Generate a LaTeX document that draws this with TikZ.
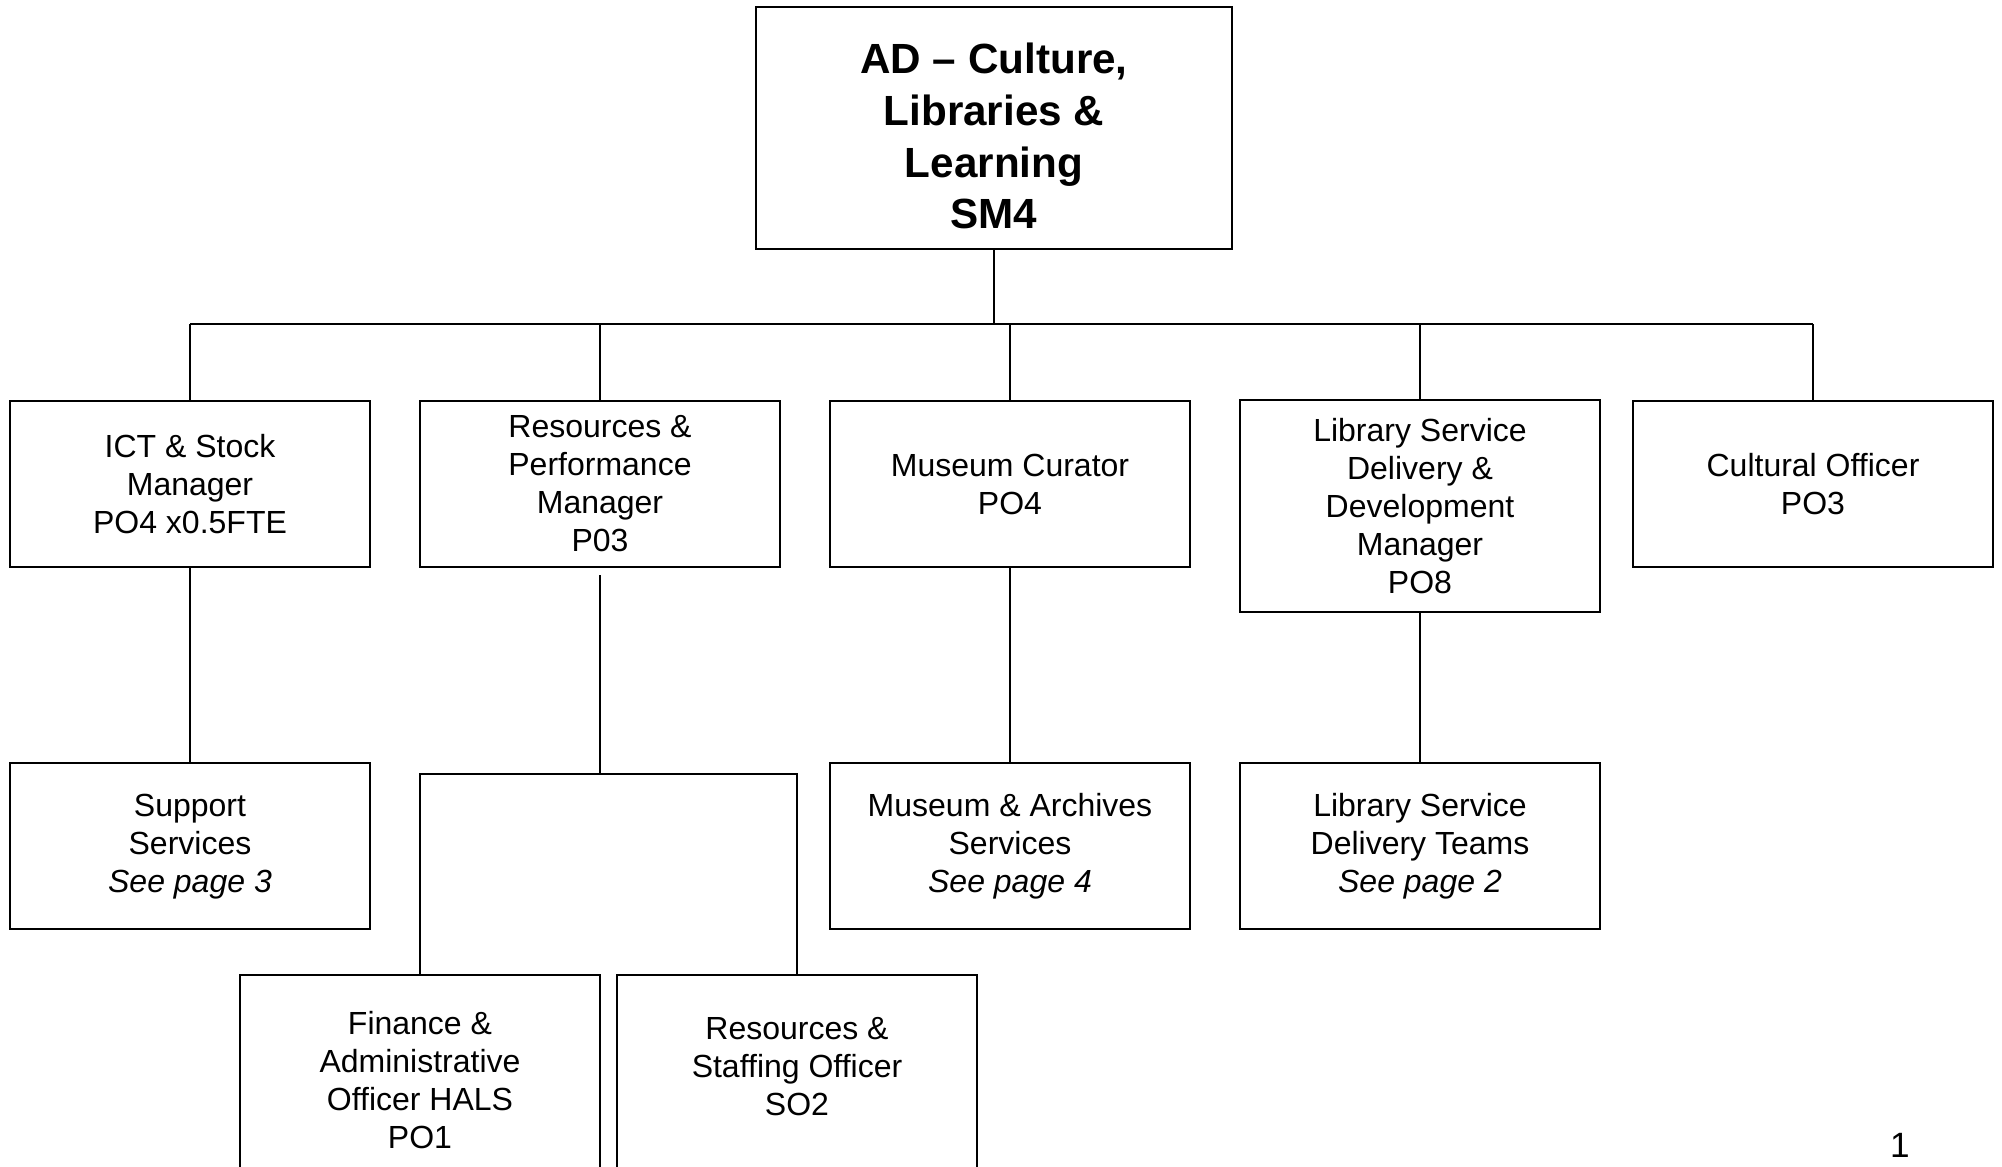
\documentclass[tikz,border=0pt]{standalone}
\usepackage{fontspec}
\setmainfont{Liberation Sans}
\usetikzlibrary{positioning}

% move the lines of a box up or down, keeping its size
\newcommand{\shiftlines}[2]{\raisebox{#1}[\height][\depth]{\begin{tabular}{@{}c@{}}#2\end{tabular}}}

\begin{document}
\begin{tikzpicture}[
                    x=0.01cm, y=-0.01cm,
                    line width=0.6pt,
                    every node/.style={font=\fontsize{9.1}{10.8}\selectfont, align=center},
                    post/.style={draw, minimum width=3.6cm, minimum height=1.66cm, inner sep=0pt},
                    head/.style={post, minimum width=4.76cm, minimum height=2.41cm,
                                 font=\fontsize{12}{14.7}\selectfont\bfseries},
                    tall/.style={post, minimum height=2.11cm},
                    cut/.style={post, minimum height=2.1cm}
                ]
                  \useasboundingbox (0,0) rectangle (2002,1167);
                  % top
                  \node[head] (ad) at (994,128) {\shiftlines{-0.13cm}{AD – Culture,\\Libraries \&\\Learning\\SM4}};
                  % first row
                  \node[post] (ict) at (190,484) {ICT \& Stock\\Manager\\PO4 x0.5FTE};
                  \node[post] (rp) at (600,484) {Resources \&\\Performance\\Manager\\P03};
                  \node[post] (curator) at (1010,484) {Museum Curator\\PO4};
                  \node[tall] (lsdd) at (1420,506) {Library Service\\Delivery \&\\Development\\Manager\\PO8};
                  \node[post] (cult) at (1813,484) {Cultural Officer\\PO3};
                  % second row
                  \node[post, below=1.94cm of ict] (support) {Support\\Services\\\textit{See page 3}};
                  \node[post, below=1.94cm of curator] (archives) {Museum \& Archives\\Services\\\textit{See page 4}};
                  \node[post, below=1.49cm of lsdd] (teams) {Library Service\\Delivery Teams\\\textit{See page 2}};
                  % third row
                  \node[cut] (finance) at (420,1080) {Finance \&\\Administrative\\Officer HALS\\PO1};
                  \node[cut] (staffing) at (797,1080) {\shiftlines{0.1cm}{Resources \&\\Staffing Officer\\SO2}};
                  \node[font=\fontsize{10}{12}\selectfont] (pgno) at (1900,1145) {1};

                  \coordinate (bar) at (0,324);
                  \coordinate (fork) at (0,774);
                  \draw (ad.south) -- (ad.south |- bar);
                  \draw (ict.north |- bar) -- (cult.north |- bar);
                  \foreach \n in {ict, rp, curator, lsdd, cult}
                    \draw (\n.north) -- (\n.north |- bar);
                  \draw (ict) -- (support);
                  \draw (curator) -- (archives);
                  \draw (lsdd) -- (teams);
                  \draw ([yshift=-0.07cm]rp.south) -- (rp.south |- fork);
                  \draw (finance.north) -- (finance.north |- fork) -- (staffing.north |- fork) -- (staffing.north);
                \end{tikzpicture}
\end{document}
